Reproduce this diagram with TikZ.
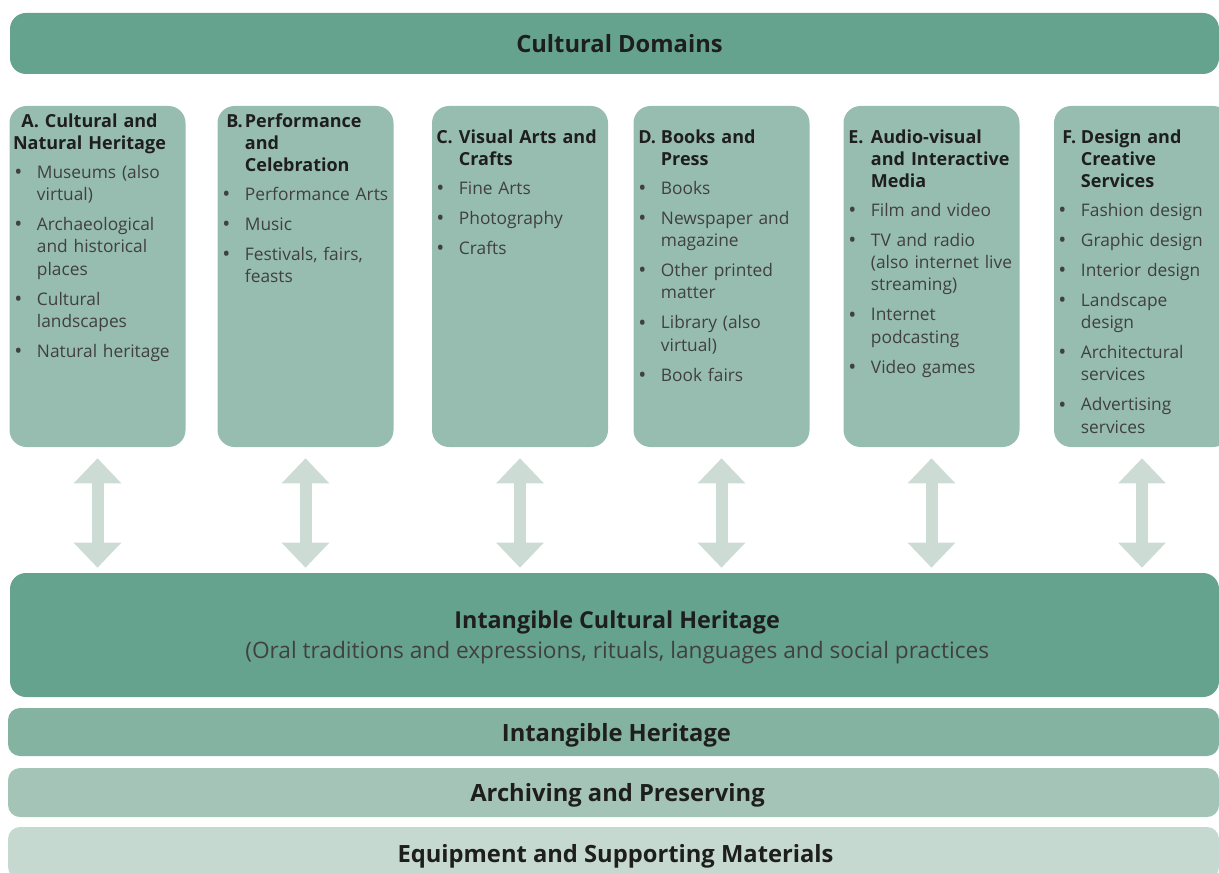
\documentclass[tikz,border=0pt]{standalone}
\usepackage{fontspec}
\setmainfont{Open Sans}
\usepackage{enumitem}
\usepackage{xcolor}
\usepackage{tikz}
\usetikzlibrary{arrows.meta, positioning}

\definecolor{domaingreen}{HTML}{66A38F}
\definecolor{colgreen}{HTML}{97BDB0}
\definecolor{ihgreen}{HTML}{84B3A2}
\definecolor{apgreen}{HTML}{A3C4B7}
\definecolor{eqgreen}{HTML}{C6D9D1}
\definecolor{arrowgreen}{HTML}{CCDCD5}
\definecolor{headgray}{HTML}{1E1E1E}
\definecolor{bodygray}{HTML}{404040}

\setlist[itemize]{label=\raisebox{-1pt}{\fontsize{16}{16}\selectfont\textbullet}, leftmargin=17pt, labelindent=0pt,
  labelwidth=6pt, labelsep=*, align=left, topsep=0pt, partopsep=0pt, parsep=0pt, itemsep=5.8pt}

\tikzset{
  colbox/.style={fill=colgreen, rounded corners=12.75pt, minimum width=132pt, minimum height=255.75pt, inner sep=0pt},
  colhead/.style={anchor=north west, inner sep=0pt, text width=135pt, align=left, text=headgray,
    font=\bfseries\fontsize{13.5}{16.5}\selectfont},
  collist/.style={anchor=north west, inner sep=0pt, text width=135pt, align=left, text=bodygray,
    font=\fontsize{13}{16.7}\selectfont},
  bar/.style={inner sep=0pt, text depth=0pt, text=headgray, font=\bfseries\fontsize{17.8}{21}\selectfont},
  twoway/.style={draw=arrowgreen, line width=9pt,
    {Triangle[length=18.75pt, width=34.5pt]}-{Triangle[length=18.75pt, width=34.5pt]},
    shorten <=8.25pt, shorten >=3.75pt}
}

\begin{document}
\begin{tikzpicture}[x=0.75pt, y=-0.75pt]
  \useasboundingbox (0,0) rectangle (1219,873);
  % Top bar
  \node[bar, fill=domaingreen, rounded corners=12pt, minimum width=906.75pt, minimum height=45.75pt]
    (dom) at (614.5,43.5) {\hspace*{7.5pt}Cultural Domains};
  % Domain columns
  \node[colbox] (a) at (97.5,276.5) {};
  \node[colbox] (b) at (305.5,276.5) {};
  \node[colbox] (c) at (520,276.5) {};
  \node[colbox] (d) at (721.5,276.5) {};
  \node[colbox] (e) at (931.5,276.5) {};
  \node[colbox] (f) at (1142,276.5) {};
  % Column headings
  \node[colhead, anchor=north, align=center] (ah) at (89.5,113.3) {A. Cultural and\\Natural Heritage};
  \node[colhead] (bh) at (222,105.3) {\begin{itemize}[label=B., labelindent=3pt]\item Performance\newline and\newline Celebration\end{itemize}};
  \node[colhead] (ch) at (436,121.3) {\begin{itemize}[label=C.]\item Visual Arts and\newline Crafts\end{itemize}};
  \node[colhead] (dh) at (638,121.3) {\begin{itemize}[label=D.]\item Books and\newline Press\end{itemize}};
  \node[colhead] (eh) at (848,121.3) {\begin{itemize}[label=E.]\item Audio-visual\newline and Interactive\newline Media\end{itemize}};
  \node[colhead] (fh) at (1058,121.3) {\begin{itemize}[label=F., labelindent=3pt]\item Design and\newline Creative\newline Services\end{itemize}};
  % Column items
  \node[collist] (al) at (14,155.8) {\begin{itemize}
      \item Museums (also\newline virtual)
      \item Archaeological\newline and historical\newline places
      \item Cultural\newline landscapes
      \item Natural heritage
    \end{itemize}};
  \node[collist] (bl) at (222,177.8) {\begin{itemize}
      \item Performance Arts
      \item Music
      \item Festivals, fairs,\newline feasts
    \end{itemize}};
  \node[collist] (cl) at (436,171.8) {\begin{itemize}
      \item Fine Arts
      \item Photography
      \item Crafts
    \end{itemize}};
  \node[collist] (dl) at (638,171.8) {\begin{itemize}
      \item Books
      \item Newspaper and\newline magazine
      \item Other printed\newline matter
      \item Library (also\newline virtual)
      \item Book fairs
    \end{itemize}};
  \node[collist] (el) at (848,193.8) {\begin{itemize}
      \item Film and video
      \item TV and radio\newline (also internet live\newline streaming)
      \item Internet\newline podcasting
      \item Video games
    \end{itemize}};
  \node[collist] (fl) at (1058,193.8) {\begin{itemize}
      \item Fashion design
      \item Graphic design
      \item Interior design
      \item Landscape\newline design
      \item Architectural\newline services
      \item Advertising\newline services
    \end{itemize}};
  % Intangible cultural heritage
  \node[bar, fill=domaingreen, rounded corners=12pt, minimum width=906.75pt, minimum height=93pt,
    align=center, font=\fontsize{17}{22.5}\selectfont]
    (ich) at (614.5,635) {\hspace*{4pt}{\bfseries\fontsize{17.5}{22.5}\selectfont Intangible Cultural Heritage}\\
    {\color{bodygray}\hspace*{4pt}(Oral traditions and expressions, rituals, languages and social practices}};
  % Bottom layers
  \node[bar, fill=ihgreen, rounded corners=9pt, minimum width=908.25pt, minimum height=36pt]
    (ih) at (613.5,732) {\hspace*{4.5pt}Intangible Heritage};
  \node[bar, fill=apgreen, rounded corners=9pt, minimum width=908.25pt, minimum height=36.75pt]
    (ap) at (613.5,792.5) {\hspace*{6pt}Archiving and Preserving};
  \node[bar, fill=eqgreen, rounded corners=9pt, minimum width=908.25pt, minimum height=39pt]
    (eq) at (613.5,853) {\hspace*{3pt}Equipment and Supporting Materials};
  % Two-way arrows
  \draw[twoway] (a.south) -- (a.south |- ich.north);
  \draw[twoway] (b.south) -- (b.south |- ich.north);
  \draw[twoway] (c.south) -- (c.south |- ich.north);
  \draw[twoway] (d.south) -- (d.south |- ich.north);
  \draw[twoway] (e.south) -- (e.south |- ich.north);
  \draw[twoway] (f.south) -- (f.south |- ich.north);
\end{tikzpicture}
\end{document}
